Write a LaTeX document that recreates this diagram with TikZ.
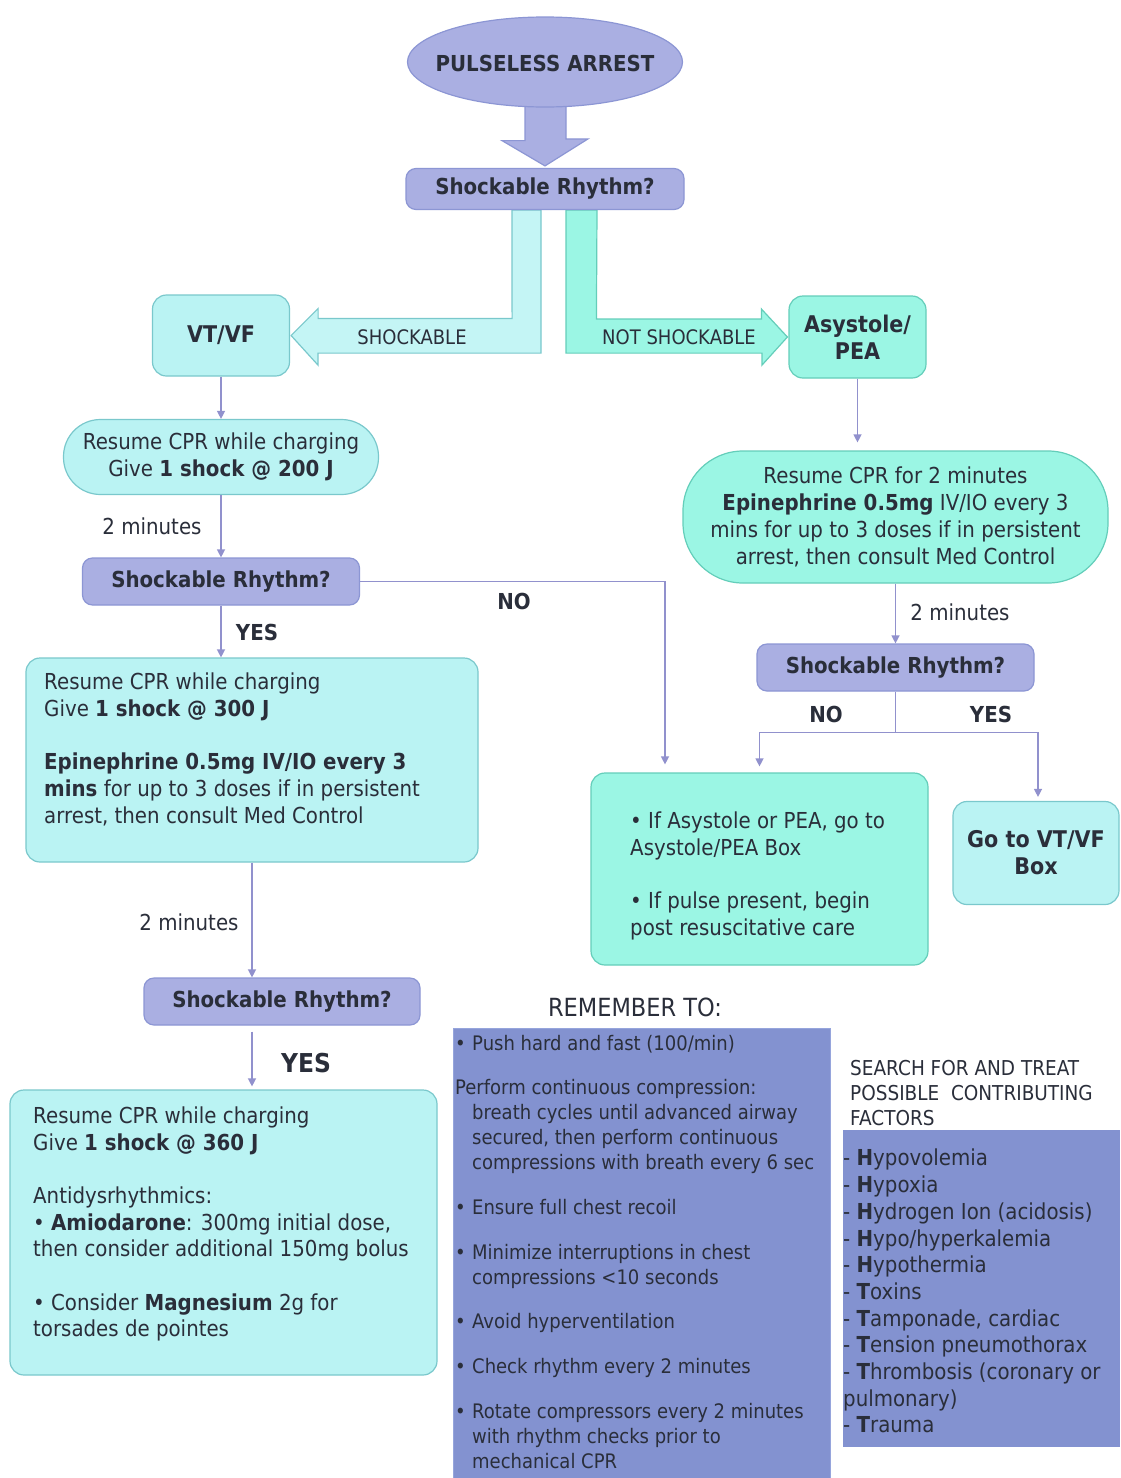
\documentclass[tikz,border=0pt]{standalone}
\usepackage{fontspec}
\setmainfont{DejaVu Sans}[FakeStretch=0.9]
\usetikzlibrary{arrows.meta,shapes.geometric}
\pgfdeclarelayer{bg}
\pgfsetlayers{bg,main}
\definecolor{lavfill}{RGB}{170,175,226}
\definecolor{lavdraw}{RGB}{140,150,212}
\definecolor{cyanfill}{RGB}{186,243,243}
\definecolor{cyandraw}{RGB}{122,200,204}
\definecolor{aquafill}{RGB}{155,246,228}
\definecolor{aquadraw}{RGB}{100,206,186}
\definecolor{remfill}{RGB}{131,146,208}
\definecolor{remdraw}{RGB}{150,165,220}
\definecolor{linecol}{RGB}{145,145,205}
\definecolor{txtcol}{RGB}{42,46,58}
\newcommand\fbody{\fontsize{22pt}{27pt}\selectfont}
\newcommand\fhead{\fontsize{22pt}{27pt}\selectfont\bfseries}
\newcommand\fbig{\fontsize{23pt}{27pt}\selectfont\bfseries}
\newcommand\frem{\fontsize{20pt}{25pt}\selectfont}
\newcommand\fsrch{\fontsize{20.5pt}{25pt}\selectfont}
\newcommand\farrow{\fontsize{20pt}{24pt}\selectfont}
\newcommand\ftitle{\fontsize{25pt}{30pt}\selectfont}
\newcommand\fyes{\fontsize{26pt}{30pt}\selectfont\bfseries}
\tikzset{
  cbox/.style={draw=cyandraw, fill=cyanfill, line width=1.2pt, rounded corners=14pt, text=txtcol},
  abox/.style={draw=aquadraw, fill=aquafill, line width=1.2pt, rounded corners=14pt, text=txtcol},
  dbox/.style={draw=lavdraw, fill=lavfill, line width=1.2pt, rounded corners=10pt, font=\fhead, text=txtcol},
  conn/.style={draw=linecol, line width=1.3pt, -{Triangle[length=8pt,width=8pt]}},
  plainline/.style={draw=linecol, line width=1.3pt},
  lbl/.style={font=\fbody, text=txtcol, inner sep=0pt},
  blbl/.style={font=\fhead, text=txtcol, inner sep=0pt},
  txtblock/.style={anchor=north west, inner sep=0pt, text=txtcol, align=left},
  blockc/.style={fill=cyanfill!85!white, draw=cyandraw, line width=1.2pt, line join=miter},
  blocka/.style={fill=aquafill, draw=aquadraw, line width=1.2pt, line join=miter},
  blockl/.style={fill=lavfill, draw=lavdraw, line width=1.2pt, line join=miter}
}
\begin{document}
\begin{tikzpicture}[x=1pt,y=-1pt]
\begin{pgfonlayer}{bg}
\fill[white] (0,0) rectangle (1120,1478);
\end{pgfonlayer}
\useasboundingbox (0,0) rectangle (1120,1478);

% ---------- main nodes ----------
\node[ellipse, draw=lavdraw, fill=lavfill, line width=1.2pt, minimum width=275pt, minimum height=90pt, inner sep=0pt] (start) at (545,62) {};
\node[font=\fhead, text=txtcol, inner sep=0pt] (starttxt) at (545,63) {PULSELESS ARREST};
\node[dbox, minimum width=278pt, minimum height=41pt] (d1) at (545,189) {Shockable Rhythm?};
\node[cbox, minimum width=137pt, minimum height=81pt, font=\fbig] (vt) at (221,335.5) {VT/VF};
\node[abox, minimum width=137pt, minimum height=82pt, font=\fbig, align=center] (as) at (857.5,337) {Asystole/\\PEA};
\node[cbox, rounded corners=37pt, minimum width=315pt, minimum height=75pt, font=\fbody, align=center] (r200) at (221,457) {Resume CPR while charging\\Give \textbf{1 shock @ 200 J}};
\node[dbox, minimum width=277pt, minimum height=47pt] (d2) at (221,581.5) {Shockable Rhythm?};
\node[cbox, minimum width=452pt, minimum height=204pt] (b300) at (252,760) {};
\node[dbox, minimum width=276pt, minimum height=47pt] (d3) at (282,1001.5) {Shockable Rhythm?};
\node[cbox, minimum width=427pt, minimum height=285pt] (b360) at (223.5,1232.5) {};
\node[abox, rounded corners=60pt, minimum width=425pt, minimum height=132pt, font=\fbody, align=center] (rp) at (895.5,517) {Resume CPR for 2 minutes\\\textbf{Epinephrine 0.5mg} IV/IO every 3\\mins for up to 3 doses if in persistent\\arrest, then consult Med Control};
\node[dbox, minimum width=277pt, minimum height=47pt] (d4) at (895.5,667.5) {Shockable Rhythm?};
\node[abox, minimum width=337pt, minimum height=192pt] (bb) at (759.5,869) {};
\node[cbox, minimum width=166pt, minimum height=103pt, font=\fbig, align=center] (gv) at (1036,853) {Go to VT/VF\\Box};
\node[fill=remfill, draw=remdraw, line width=1pt, minimum width=377pt, minimum height=470pt, anchor=north west, inner sep=0pt] (rem) at (453,1028) {};
\node[fill=remfill, minimum width=277pt, minimum height=317pt, anchor=north west, inner sep=0pt] (fac) at (843,1130) {};

% ---------- box texts ----------
\node[txtblock, font=\fbody] (t300) at (44,673) {Resume CPR while charging\\Give \textbf{1 shock @ 300 J}\\[26pt]\textbf{Epinephrine 0.5mg IV/IO every 3}\\\textbf{mins} for up to 3 doses if in persistent\\arrest, then consult Med Control};
\node[txtblock, font={\fontsize{22pt}{26.5pt}\selectfont}] (t360) at (33,1107) {Resume CPR while charging\\Give \textbf{1 shock @ 360 J}\\[27pt]Antidysrhythmics:\\• \textbf{Amiodarone}: 300mg initial dose,\\then consider additional 150mg bolus\\[27pt]• Consider \textbf{Magnesium} 2g for\\torsades de pointes};
\node[txtblock, font=\fbody] (tbb) at (630,812) {• If Asystole or PEA, go to\\Asystole/PEA Box\\[26pt]• If pulse present, begin\\post resuscitative care};
\node[txtblock, font=\frem] (trem) at (455,1035) {%
\makebox[17pt][l]{•}Push hard and fast (100/min)\\[19pt]
Perform continuous compression:\\
\hspace*{17pt}breath cycles until advanced airway\\
\hspace*{17pt}secured, then perform continuous\\
\hspace*{17pt}compressions with breath every 6 sec\\[20pt]
\makebox[17pt][l]{•}Ensure full chest recoil\\[20pt]
\makebox[17pt][l]{•}Minimize interruptions in chest\\
\hspace*{17pt}compressions <10 seconds\\[19pt]
\makebox[17pt][l]{•}Avoid hyperventilation\\[20pt]
\makebox[17pt][l]{•}Check rhythm every 2 minutes\\[20pt]
\makebox[17pt][l]{•}Rotate compressors every 2 minutes\\
\hspace*{17pt}with rhythm checks prior to\\
\hspace*{17pt}mechanical CPR};
\node[txtblock, font=\fsrch] (tsrch) at (850,1060) {SEARCH FOR AND TREAT\\POSSIBLE\ \ CONTRIBUTING\\FACTORS};
\node[txtblock, font={\fontsize{22pt}{26.7pt}\selectfont}] (tfac) at (843,1149) {- \textbf{H}ypovolemia\\- \textbf{H}ypoxia\\- \textbf{H}ydrogen Ion (acidosis)\\- \textbf{H}ypo/hyperkalemia\\- \textbf{H}ypothermia\\- \textbf{T}oxins\\- \textbf{T}amponade, cardiac\\- \textbf{T}ension pneumothorax\\- \textbf{T}hrombosis (coronary or\\pulmonary)\\- \textbf{T}rauma};
\node[font=\ftitle, text=txtcol, inner sep=0pt] (title) at (635,1007) {REMEMBER TO:};

% ---------- block arrows ----------
\begin{pgfonlayer}{bg}
\draw[blockl] ([xshift=-20pt,yshift=5pt]start.south) -- ++(0,38) -- ++(-23,0) -- ([yshift=2pt]d1.north) -- ++(43,-27) -- ++(-22,0) -- ([xshift=21pt,yshift=5pt]start.south) -- cycle;
\draw[blockc] ([xshift=-4pt]d1.south) -- ++(0,143) -- ++(-223,0) -- ++(0,12) -- ([xshift=1pt]vt.east) -- ++(27,-27) -- ++(0,10) -- ++(194,0) -- ([xshift=-33pt]d1.south) -- cycle;
\draw[blocka] ([xshift=21pt]d1.south) -- ++(0,143) -- ++(196,0) -- ++(0,12) -- ([xshift=-1pt]as.west) -- ++(-26,-28) -- ++(0,10) -- ++(-165,0) -- ([xshift=52pt]d1.south) -- cycle;
\end{pgfonlayer}
\node[font=\farrow, text=txtcol, inner sep=0pt] (lshock) at (412,337) {SHOCKABLE};
\node[font=\farrow, text=txtcol, inner sep=0pt] (lnot) at (679,337) {NOT SHOCKABLE};

% ---------- connectors ----------
\draw[conn] (vt.south) -- (vt.south |- r200.north);
\draw[conn] (r200.south) -- (d2.north);
\draw[conn] (d2.south) -- (d2.south |- b300.north);
\coordinate (noend) at ([xshift=-94.5pt,yshift=8pt]bb.north);
\draw[conn] (d2.east) -| (noend);
\draw[conn] ([xshift=-30pt]d3.north |- b300.south) -- ([xshift=-30pt]d3.north);
\draw[conn] ([xshift=-30pt,yshift=-6pt]d3.south) -- ([xshift=-30pt,yshift=3pt]d3.south |- b360.north);
\draw[conn] (as.south) -- ([yshift=8pt]as.south |- rp.north);
\draw[conn] (rp.south) -- (d4.north);
\draw[plainline] (d4.south) -- ++(0,41) coordinate (split);
\draw[conn] (split) -| ([yshift=6pt]bb.north);
\draw[conn] (split) -| ([xshift=2pt,yshift=4pt]gv.north);

% ---------- labels ----------
\node[lbl] (m1) at (152,526) {2 minutes};
\node[lbl] (m2) at (189,922) {2 minutes};
\node[lbl] (m3) at (960,612) {2 minutes};
\node[blbl] (y1) at (257,632) {YES};
\node[blbl] (n1) at (514,601) {NO};
\node[font=\fyes, text=txtcol, inner sep=0pt] (y2) at (306,1063) {YES};
\node[blbl] (n2) at (826,714) {NO};
\node[blbl] (y3) at (991,714) {YES};
\end{tikzpicture}
\end{document}
